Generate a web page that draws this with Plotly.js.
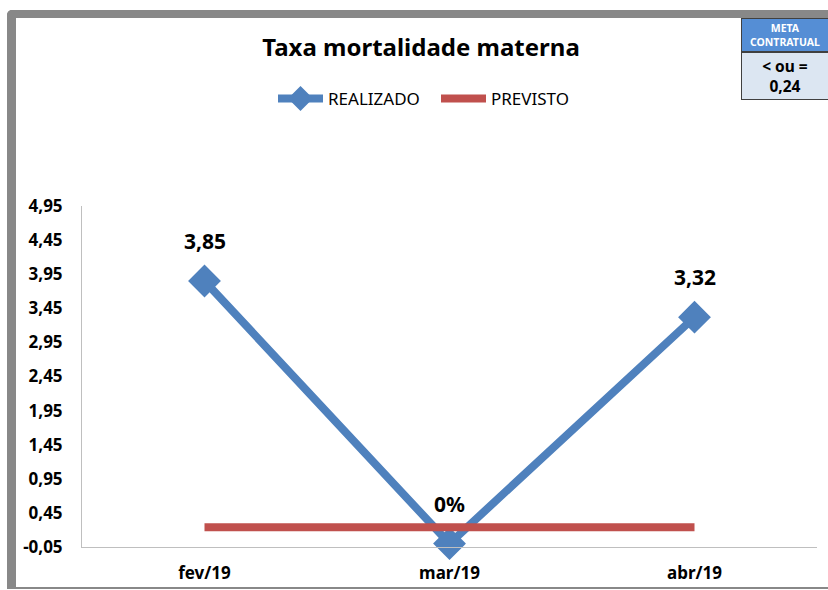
<!DOCTYPE html>
<html><head><meta charset="utf-8">
<script src="https://cdn.plot.ly/plotly-3.0.1.min.js"></script>
<style>
html,body{margin:0;padding:0;background:#fff;}
#wrap{position:relative;width:828px;height:590px;overflow:hidden;}
#frame{position:absolute;left:7px;top:10px;width:860px;height:569px;border-left:9px solid #888;border-top:8px solid #888;border-bottom:2px solid #888;border-top-left-radius:5px;}
#chart{position:absolute;left:0;top:0;width:828px;height:590px;}
</style></head><body>
<div id="wrap"><div id="frame"></div><div id="chart"></div></div>
<script>
const categories = ['fev/19', 'mar/19', 'abr/19'];
const realizado = [3.85, 0, 3.32];
const realizadoLabels = ['3,85', '0%', '3,32'];
const previsto = [0.24, 0.24, 0.24];
const yTickVals = [-0.05, 0.45, 0.95, 1.45, 1.95, 2.45, 2.95, 3.45, 3.95, 4.45, 4.95];
const yTickText = ['-0,05', '0,45', '0,95', '1,45', '1,95', '2,45', '2,95', '3,45', '3,95', '4,45', '4,95'];
const metaHeader = 'META<br>CONTRATUAL';
const metaValue = '&lt; ou =<br>0,24';

const FONT = 'Noto Sans, Open Sans, sans-serif';
const blue = '#4F81BD';
const red = '#C0504D';

const traces = [
  {
    x: categories, y: realizado, name: 'REALIZADO', type: 'scatter', mode: 'lines+markers',
    line: {color: blue, width: 8},
    marker: {symbol: 'diamond', size: 22, color: blue, line: {color: blue, width: 3}},
    cliponaxis: false, hoverinfo: 'skip'
  },
  {
    x: categories, y: previsto, name: 'PREVISTO', type: 'scatter', mode: 'lines',
    line: {color: red, width: 8},
    cliponaxis: false, hoverinfo: 'skip'
  }
];

const L = 82, R = 817, T = 206, B = 547;
const px = p => (p - L) / (R - L);
const py = q => (B - q) / (B - T);

const annotations = categories.map((c, i) => ({
  x: c, y: realizado[i], xref: 'x', yref: 'y', text: realizadoLabels[i],
  showarrow: false, yshift: 40, yanchor: 'middle',
  font: {family: FONT, size: 21, color: '#000', weight: 'bold'}
}));
annotations.push({
  xref: 'paper', yref: 'paper', x: px(741), y: py(18), xanchor: 'left', yanchor: 'top',
  text: metaHeader, showarrow: false, width: 84, height: 30, bgcolor: '#558ED5',
  bordercolor: '#404040', borderwidth: 1, borderpad: 1,
  font: {family: FONT, size: 10.5, color: '#fff', weight: 'bold'}
});
annotations.push({
  xref: 'paper', yref: 'paper', x: px(741), y: py(52), xanchor: 'left', yanchor: 'top',
  text: metaValue, showarrow: false, width: 84, height: 44, bgcolor: '#DCE6F2',
  bordercolor: '#404040', borderwidth: 1, borderpad: 1,
  font: {family: FONT, size: 15.5, color: '#000', weight: 'bold'}
});

const layout = {
  width: 828, height: 590,
  margin: {l: L, r: 828 - R, t: T, b: 590 - B, pad: 0},
  paper_bgcolor: 'rgba(0,0,0,0)', plot_bgcolor: 'rgba(0,0,0,0)',
  separators: ',.',
  showlegend: true,
  title: {
    text: 'Taxa mortalidade materna', xref: 'container', yref: 'container',
    x: 421 / 828, y: 1 - 48 / 590, xanchor: 'center', yanchor: 'middle',
    font: {family: FONT, size: 24, color: '#000', weight: 'bold'}
  },
  legend: {
    orientation: 'h', xref: 'paper', yref: 'paper', x: px(273), y: py(99),
    xanchor: 'left', yanchor: 'middle', bgcolor: 'rgba(0,0,0,0)',
    itemwidth: 45, entrywidth: 103, entrywidthmode: 'pixels',
    font: {family: FONT, size: 17, color: '#000'}, itemclick: false
  },
  xaxis: {
    type: 'category', range: [-0.5, 2.5], showgrid: false, zeroline: false,
    showline: true, linecolor: '#BFBFBF', linewidth: 1, ticks: '',
    tickfont: {family: FONT, size: 17, color: '#000', weight: 'bold'},
    ticklabelstandoff: 11
  },
  yaxis: {
    range: [-0.05, 4.95], tickmode: 'array', tickvals: yTickVals, ticktext: yTickText,
    showgrid: false, zeroline: false, showline: true, linecolor: '#BFBFBF', linewidth: 1,
    ticks: '', tickfont: {family: FONT, size: 17, color: '#000', weight: 'bold'},
    ticklabelstandoff: 15
  },
  annotations: annotations
};

Plotly.newPlot('chart', traces, layout, {staticPlot: true, displayModeBar: false});
</script>
</body></html>
